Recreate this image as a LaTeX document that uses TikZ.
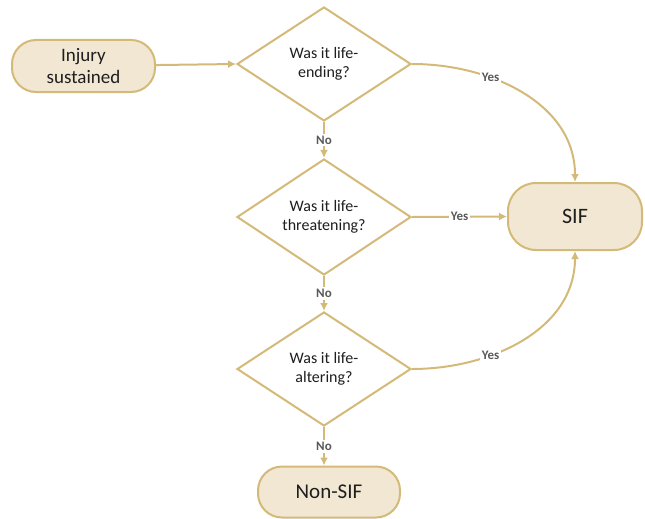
\documentclass[tikz,border=0pt]{standalone}
\usepackage{fontspec}
\setmainfont{Carlito}
\usetikzlibrary{shapes.geometric,arrows.meta}
\definecolor{sandline}{RGB}{212,186,120}
\definecolor{sandfill}{RGB}{241,231,211}
\definecolor{textgray}{RGB}{30,30,30}
\definecolor{labelgray}{RGB}{89,89,89}

\begin{document}
\begin{tikzpicture}[
  x=1pt, y=-1pt,
  term/.style={rectangle, rounded corners=24pt, draw=sandline, fill=sandfill, line width=2pt, text=textgray, align=center},
  decision/.style={diamond, draw=sandline, fill=white, line width=2pt, minimum width=174pt, minimum height=114pt, inner sep=0pt, text=textgray, align=center, font=\fontsize{16}{19}\selectfont},
  arrow/.style={-{Latex[length=8pt,width=8pt]}, line width=2pt, draw=sandline},
  answer/.style={fill=white, text=labelgray, font=\fontsize{13}{15}\selectfont\bfseries, inner sep=2pt}
]
\useasboundingbox (0,0) rectangle (645,519);

\node[term, minimum width=143pt, minimum height=52pt, font=\fontsize{19}{22}\selectfont] (injury) at (83.5,66) {Injury\\sustained};
\node[decision] (ending) at (324,64) {Was it life-\\ending?};
\node[decision] (threat) at (324,217) {Was it life-\\threatening?};
\node[decision] (alter) at (324,369) {Was it life-\\altering?};
\node[term, minimum width=134pt, minimum height=67pt, rounded corners=28pt, font=\fontsize{22}{26}\selectfont] (sif) at (575,216.5) {SIF};
\node[term, minimum width=142pt, minimum height=51pt, font=\fontsize{21}{25}\selectfont] (nonsif) at (329,492) {Non-SIF};

\draw[arrow] (injury) -- (ending.west);
\draw[arrow] (ending.south) -- node[answer] {No} (threat.north);
\draw[arrow] (threat.south) -- node[answer] {No} (alter.north);
\draw[arrow] (alter.south) -- node[answer] {No} (alter.south |- nonsif.north);
\draw[arrow] (ending.east) to[out=0, in=90] node[answer, pos=0.34] {Yes} (sif.north);
\draw[arrow] (threat.east) -- node[answer] {Yes} (sif.west);
\draw[arrow] (alter.east) to[out=0, in=-90] node[answer, pos=0.34] {Yes} (sif.south);
\end{tikzpicture}
\end{document}
